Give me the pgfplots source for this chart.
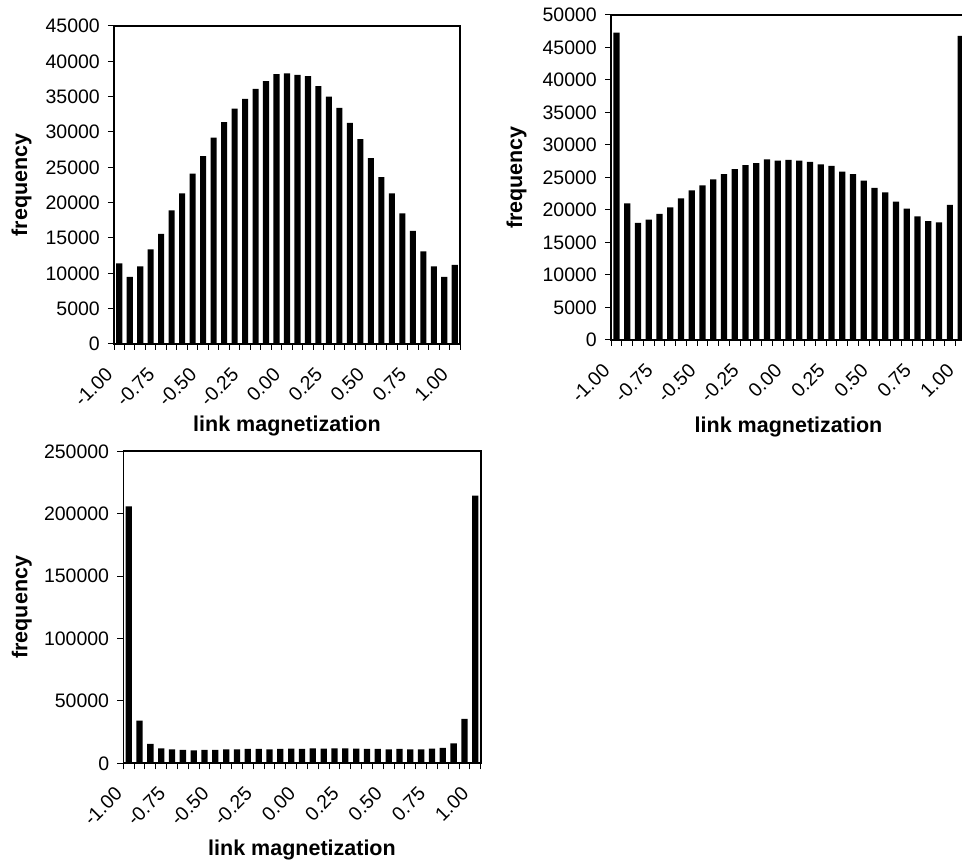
\documentclass[border=0pt]{standalone}
\usepackage{pgfplots}
\pgfplotsset{compat=1.18}
\usepackage{fontspec}
\setmainfont{Liberation Sans}
\newcommand{\tickfont}{\fontsize{19.5bp}{21bp}\selectfont}
\newcommand{\labfont}{\fontsize{21.5bp}{24bp}\selectfont\bfseries}

\pgfplotsset{
  hist/.style={
    scale only axis,
    anchor=south west,
    xmin=-0.5, xmax=32.5, ymin=0,
    axis line style={line width=1.6bp},
    tick style={line width=1bp, black},
    tick align=outside,
    xtick={0,4,...,32},
    xticklabels={-1.00,-0.75,-0.50,-0.25,0.00,0.25,0.50,0.75,1.00},
    major x tick style={draw=none},
    minor xtick={-0.5,0.5,...,32.5},
    minor tick length=6bp,
    major tick length=6bp,
    xtick pos=bottom, ytick pos=left,
    scaled y ticks=false,
    /pgf/number format/.cd, fixed, precision=0, set thousands separator={}, assume math mode=true,
    /pgfplots/.cd,
    yticklabel style={font=\tickfont, anchor=east, inner sep=0pt, xshift=-8bp},
    xticklabel style={font=\tickfont, inner sep=0pt, xshift=-15bp, yshift=-16bp, rotate=45, anchor=north east},
    xlabel={link magnetization},
    ylabel={frequency},
    label style={font=\labfont},
    xlabel style={anchor=base},
    ylabel style={anchor=base},
  },
  hbar/.style={ybar, bar width=0.58, fill=black, draw=none},
}

\begin{document}
\begin{tikzpicture}
\useasboundingbox (0,0) rectangle (962bp,865bp);

% Panel 1
\begin{axis}[hist, at={(114bp,521bp)}, width=346bp, height=318bp,
  ymax=45000, ytick={0,5000,...,45000},
  xlabel style={at={(axis description cs:0.5,-0.2736)}},
  ylabel style={at={(axis description cs:-0.2514,0.5)}}]
\addplot[hbar] coordinates {
(0,11400) (1,9500) (2,11000) (3,13400) (4,15600) (5,18900) (6,21300) (7,24100)
(8,26600) (9,29200) (10,31400) (11,33300) (12,34700) (13,36100) (14,37200) (15,38200)
(16,38300) (17,38100) (18,37900) (19,36500) (20,35000) (21,33400) (22,31300) (23,29000)
(24,26300) (25,23600) (26,21300) (27,18500) (28,16000) (29,13100) (30,11000) (31,9500) (32,11200)};
\end{axis}

% Panel 2
\begin{axis}[hist, at={(611bp,525bp)}, width=355bp, height=325bp,
  ymax=50000, ytick={0,5000,...,50000},
  xlabel style={at={(axis description cs:0.5,-0.2859)}},
  ylabel style={at={(axis description cs:-0.2507,0.5)}}]
\addplot[hbar] coordinates {
(0,47300) (1,21000) (2,18000) (3,18500) (4,19400) (5,20400) (6,21800) (7,23000)
(8,23800) (9,24700) (10,25500) (11,26300) (12,26900) (13,27200) (14,27800) (15,27600)
(16,27700) (17,27600) (18,27400) (19,27000) (20,26800) (21,25900) (22,25500) (23,24500)
(24,23400) (25,22700) (26,21300) (27,20200) (28,19000) (29,18300) (30,18100) (31,20800) (32,46800)};
\end{axis}

% Panel 3
\begin{axis}[hist, at={(123.3bp,101.7bp)}, width=357.4bp, height=312bp,
  ymax=250000, ytick={0,50000,100000,150000,200000,250000},
  xlabel style={at={(axis description cs:0.5,-0.2949)}},
  ylabel style={at={(axis description cs:-0.2686,0.5)}}]
\addplot[hbar] coordinates {
(0,205900) (1,34200) (2,15500) (3,12000) (4,11200) (5,10700) (6,10400) (7,10700)
(8,10700) (9,11200) (10,11200) (11,11500) (12,11500) (13,11200) (14,11500) (15,11800)
(16,11500) (17,12000) (18,11800) (19,12000) (20,12000) (21,11800) (22,11500) (23,11500)
(24,11200) (25,11500) (26,11200) (27,11200) (28,11800) (29,12300) (30,16000) (31,35500) (32,214500)};
\end{axis}
\end{tikzpicture}
\end{document}
